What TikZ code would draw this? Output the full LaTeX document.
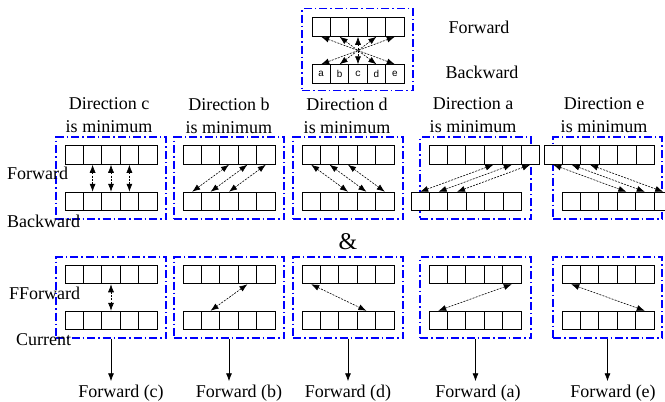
\documentclass[tikz,border=0pt]{standalone}
\usepackage{fontspec}
\setmainfont{Liberation Serif}
\newfontfamily\cellfont{Liberation Mono}
\usetikzlibrary{arrows.meta}

% a row of #4 cells named #1<k>, left edge at #2, centred on height #3
\newcommand{\cellrow}[4]{%
  \foreach \k in {1,...,#4}
    \node[cellbox] (#1\k) at ({#2+(\k-0.5)*18.4},#3) {};
}

\begin{document}
\begin{tikzpicture}[x=1pt, y=-1pt, >={Latex[length=8pt,width=6pt]},
    font=\fontsize{18}{23}\selectfont,
    cellbox/.style={draw, fill=white, line width=1pt, minimum width=18.4pt,
                    minimum height=18.5pt, inner sep=0pt},
    panel/.style={draw=blue, line width=1.2pt,
                  dash pattern=on 8pt off 3pt on 1.5pt off 3pt,
                  minimum width=110pt, minimum height=82pt, inner sep=0pt},
    dirlink/.style={<->, dash pattern=on 2pt off 1.2pt, line width=0.6pt},
    outarrow/.style={->, line width=0.8pt}]

  \useasboundingbox (0,0) rectangle (665,402);

  % overview of the five directions
  \node[panel, minimum width=111pt] (top) at (357.5,49.5) {};
  \cellrow{tF}{312}{27}{5}
  \foreach \k/\t in {1/a,2/b,3/c,4/d,5/e}
    \node[cellbox, font=\cellfont\fontsize{10}{10}\selectfont] (tB\k)
      at ({312+(\k-0.5)*18.4},74) {\t};
  \foreach \k/\j in {1/5,2/4,3/3,4/2,5/1}
    \draw[dirlink] (tF\k.south) -- (tB\j.north);
  \node (fwd) at (479,27) {Forward};
  \node (bwd) at (482,72) {Backward};

  % direction titles
  \node[align=center] (dc) at (109,115.5) {Direction c\\is minimum};
  \node[align=center] (db) at (229,115.5) {Direction b\\is minimum};
  \node[align=center] (dd) at (347,115.5) {Direction d\\is minimum};
  \node[align=center] (da) at (473,115.5) {Direction a\\is minimum};
  \node[align=center] (de) at (604,115.5) {Direction e\\is minimum};

  % forward / backward panels
  \node[panel] (uc) at (111,178) {};
  \node[panel] (ub) at (229,178) {};
  \node[panel] (ud) at (348,178) {};
  \node[panel, minimum width=111pt] (ua) at (475.5,178) {};
  \node[panel, minimum width=109pt] (ue) at (607.5,178) {};

  \cellrow{cF}{65}{155}{5}   \cellrow{cB}{65}{201.5}{5}
  \cellrow{bF}{183}{155}{5}  \cellrow{bB}{183}{201.5}{5}
  \cellrow{dF}{302}{155}{5}  \cellrow{dB}{302}{201.5}{5}
  \cellrow{aF}{429}{155}{6}  \cellrow{aB}{411}{201.5}{6}
  \cellrow{eF}{544}{155}{6}  \cellrow{eB}{562}{201.5}{6}

  \foreach \k in {2,3,4}
    \draw[dirlink] (cF\k.south) -- (cB\k.north);
  \foreach \k/\j in {3/1,4/2,5/3}
    \draw[dirlink] (bF\k.south) -- (bB\j.north);
  \foreach \k/\j in {1/3,2/4,3/5}
    \draw[dirlink] (dF\k.south) -- (dB\j.north);
  \foreach \k/\j in {4/1,5/2,6/3}
    \draw[dirlink] (aF\k.south) -- (aB\j.north);
  \foreach \k/\j in {1/4,2/5,3/6}
    \draw[dirlink] (eF\k.south) -- (eB\j.north);

  \node[anchor=west, inner sep=0pt] (lf) at (7,173) {Forward};
  \node[anchor=west, inner sep=0pt] (lb) at (7,221) {Backward};

  \node[font=\fontsize{24}{24}\selectfont] (amp) at (348,242) {\&};

  % fforward / current panels
  \node[panel, minimum height=81pt] (lc) at (111,297.5) {};
  \node[panel, minimum height=81pt] (lb2) at (229,297.5) {};
  \node[panel, minimum height=81pt] (ld) at (348,297.5) {};
  \node[panel, minimum width=111pt, minimum height=81pt] (la) at (475.5,297.5) {};
  \node[panel, minimum width=109pt, minimum height=81pt] (le) at (607.5,297.5) {};

  \cellrow{cX}{65}{274.5}{5}   \cellrow{cC}{65}{320.5}{5}
  \cellrow{bX}{183}{274.5}{5}  \cellrow{bC}{183}{320.5}{5}
  \cellrow{dX}{302}{274.5}{5}  \cellrow{dC}{302}{320.5}{5}
  \cellrow{aX}{429}{274.5}{5}  \cellrow{aC}{429}{320.5}{5}
  \cellrow{eX}{562}{274.5}{5}  \cellrow{eC}{562}{320.5}{5}

  \draw[dirlink] (cX3.south) -- (cC3.north);
  \draw[dirlink] (bX4.south) -- (bC2.north);
  \draw[dirlink] (dX1.south) -- (dC4.north);
  \draw[dirlink] (aX5.south) -- (aC1.north);
  \draw[dirlink] (eX1.south) -- (eC5.north);

  \node[anchor=west, inner sep=0pt] (lff) at (9,293) {FForward};
  \node[anchor=west, inner sep=0pt] (lcur) at (16,340) {Current};

  % results
  \node (oc) at (121,393) {Forward (c)};
  \node (ob) at (239,393) {Forward (b)};
  \node (od) at (348,393) {Forward (d)};
  \node (oa) at (478,393) {Forward (a)};
  \node (oe) at (613,393) {Forward (e)};

  \draw[outarrow] (lc.south) -- (lc.south |- oc.north);
  \draw[outarrow] (lb2.south) -- (lb2.south |- ob.north);
  \draw[outarrow] (ld.south) -- (ld.south |- od.north);
  \draw[outarrow] (la.south) -- (la.south |- oa.north);
  \draw[outarrow] (le.south) -- (le.south |- oe.north);
\end{tikzpicture}
\end{document}
